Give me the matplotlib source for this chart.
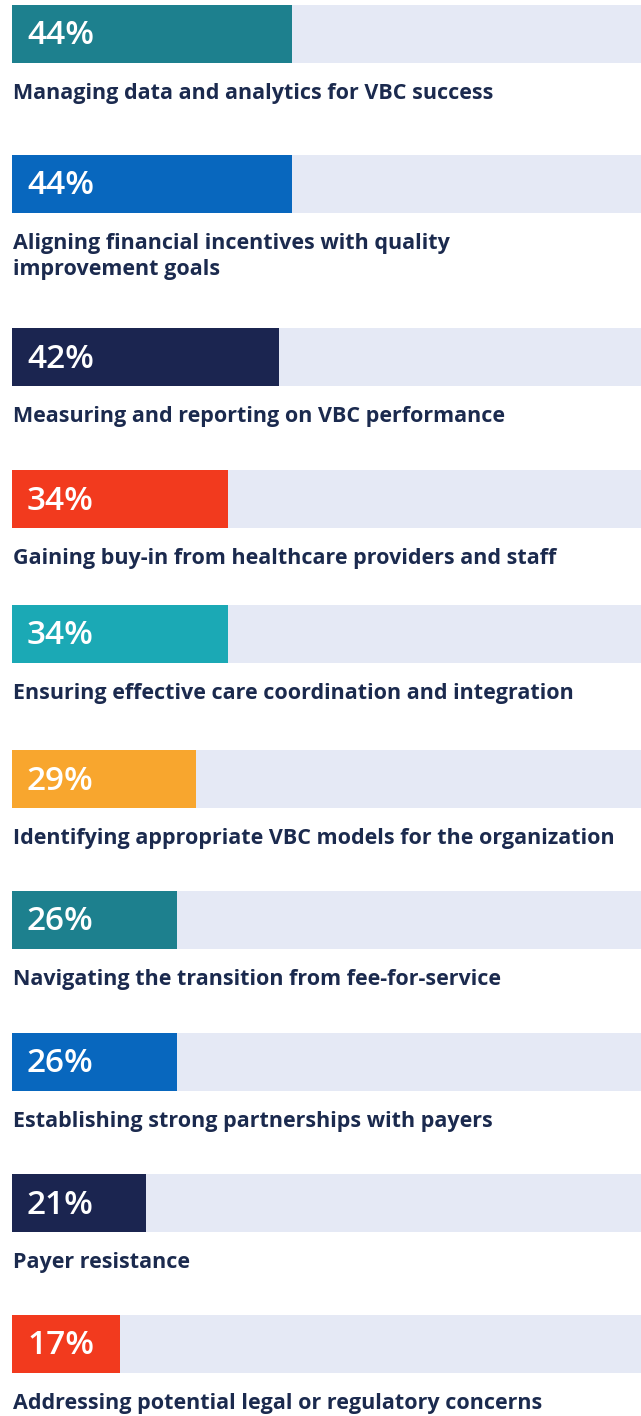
import matplotlib.pyplot as plt

# data
labels = [
    "Managing data and analytics for VBC success",
    "Aligning financial incentives with quality\nimprovement goals",
    "Measuring and reporting on VBC performance",
    "Gaining buy-in from healthcare providers and staff",
    "Ensuring effective care coordination and integration",
    "Identifying appropriate VBC models for the organization",
    "Navigating the transition from fee-for-service",
    "Establishing strong partnerships with payers",
    "Payer resistance",
    "Addressing potential legal or regulatory concerns",
]
values = [44, 44, 42, 34, 34, 29, 26, 26, 21, 17]
colors = ["#1D808E", "#0867BE", "#1B2550", "#F23A1E", "#1BA9B5",
          "#F8A62E", "#1D808E", "#0867BE", "#1B2550", "#F23A1E"]

# layout (pixels)
W, H = 641, 1416
LEFT = 12
BAR_H = 58
PX_PER_PCT = 6.36  # the 100% track runs a little past the right edge
row_tops = [5, 155, 328, 470, 605, 750, 891, 1033, 1174, 1315]
TEXT_COLOR = "#1B2A4E"
BG_COLOR = "#E5E9F5"
FONT = ["Open Sans", "DejaVu Sans"]

fig = plt.figure(figsize=(W / 100, H / 100), dpi=100)
ax = fig.add_axes([0, 0, 1, 1])
scale = PX_PER_PCT
ax.set_xlim(-LEFT / scale, (W - LEFT) / scale)
ax.set_ylim(H, 0)
ax.axis("off")

centers = [t + BAR_H / 2 for t in row_tops]

# background track + value bars
ax.barh(centers, [100] * len(values), height=BAR_H, left=0, color=BG_COLOR)
ax.barh(centers, values, height=BAR_H, left=0, color=colors)

for c, v, lab in zip(centers, values, labels):
    ax.text((27 - LEFT) / scale, c + 2, f"{v}%", color="white",
            fontsize=24, fontweight="semibold", family=FONT,
            va="center", ha="left")
    ax.text((13 - LEFT) / scale, c + BAR_H / 2 + 20, lab, color=TEXT_COLOR,
            fontsize=15.5, fontweight="bold", family=FONT,
            va="top", ha="left", linespacing=1.3)

fig.savefig("out.png", dpi=100)
